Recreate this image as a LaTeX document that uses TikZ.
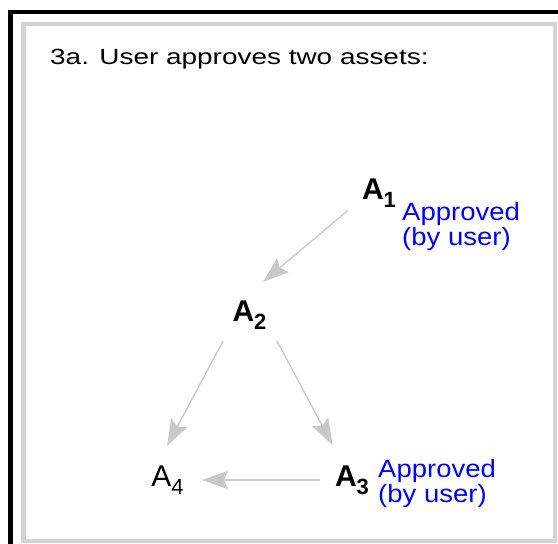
\documentclass[tikz,border=0pt]{standalone}
\usepackage{fontspec}
\setmainfont{Liberation Sans}
\usetikzlibrary{arrows.meta}
\definecolor{framegray}{HTML}{D4D4D4}
\definecolor{arrowgray}{HTML}{C8C8C8}
\definecolor{apblue}{HTML}{0000FF}
\newcommand\assetsub[1]{\raisebox{-8pt}{\fontsize{22}{22}\selectfont #1}}
\begin{document}
\begin{tikzpicture}[x=1pt,y=-1pt,
  asset/.style={inner sep=0pt, anchor=center, font=\fontsize{30}{30}\selectfont},
  note/.style={inner sep=0pt, anchor=base west, align=left, text=apblue, font=\fontsize{25}{22}\selectfont},
  dep/.style={draw=arrowgray, line width=1.3pt, -{Stealth[length=26pt,width=18pt,inset=4pt,fill=arrowgray]}},
]
\useasboundingbox (0,0) rectangle (558,544);
\fill[white] (0,0) rectangle (558,544);
\draw[line width=4.5pt] (8,12) -- (558,12);
\draw[line width=5pt] (10.8,9.75) -- (10.8,544);
\draw[framegray, line width=4.5pt] (23.3,23.8) rectangle (555,540.8);

\node (title) [anchor=base west, inner sep=0pt, font=\fontsize{22}{22}\selectfont] at (50,64.7) {\scalebox{1.27}[1]{3a. User approves two assets:}};

\node (a1) [asset] at (379,193.3) {\bfseries A\assetsub{\bfseries 1}};
\node (a2) [asset] at (249.5,315) {\bfseries A\assetsub{2}};
\node (a3) [asset] at (352,480) {\bfseries A\assetsub{3}};
\node (a4) [asset] at (167.5,480) {A\assetsub{4}};

\node (n1) [note] at (402,245) {\scalebox{1.1}[1]{Approved}\\\scalebox{1.1}[1]{(by user)}};
\node (n3) [note] at (378,502) {\scalebox{1.1}[1]{Approved}\\\scalebox{1.1}[1]{(by user)}};

\draw[dep] ([shift={(-31,17)}]a1.center) -- ([shift={(13.5,-33)}]a2.center);
\draw[dep] ([shift={(-26.5,26)}]a2.center) -- ([shift={(-0.5,-34)}]a4.center);
\draw[dep] ([shift={(27.5,26)}]a2.center) -- ([shift={(-19.5,-35)}]a3.center);
\draw[dep] ([shift={(-32,0)}]a3.center) -- ([shift={(34.5,0)}]a4.center);
\end{tikzpicture}
\end{document}
